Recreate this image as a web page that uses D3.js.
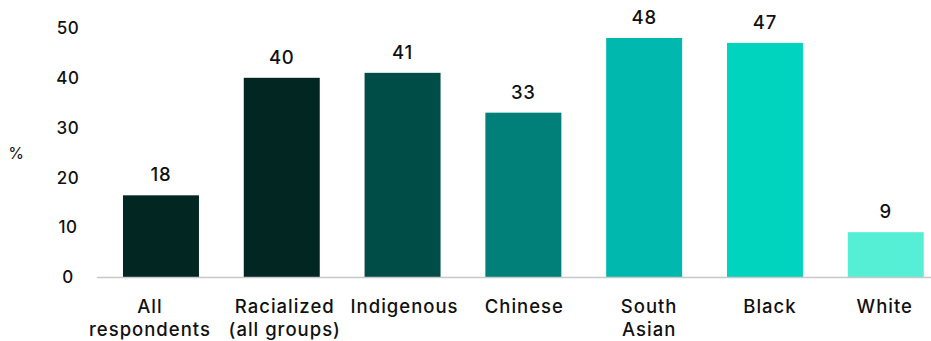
<!DOCTYPE html>
<html>
<head>
<meta charset="utf-8">
<script src="https://cdn.jsdelivr.net/npm/d3@7"></script>
<style>
html,body{margin:0;padding:0;background:#fff;}
svg{display:block;font-family:Inter,"Noto Sans",sans-serif;}
</style>
</head>
<body>
<svg id="chart" width="931" height="341"></svg>
<script>
const categories = [["All","respondents"],["Racialized","(all groups)"],["Indigenous"],["Chinese"],["South","Asian"],["Black"],["White"]];
const values = [16.4, 40, 41, 33, 48, 47, 9];
const valueLabels = ["18","40","41","33","48","47","9"];
const colors = ["#022621","#022621","#004d48","#008079","#00b8ae","#00d4be","#55efd6"];
const yTicks = [0,10,20,30,40,50];

const svg = d3.select("#chart");
const step = 120.8;
const x = d3.scaleBand()
  .domain(d3.range(categories.length))
  .range([97, 97 + step*(7 - 0.371 + 0.43)])
  .paddingInner(0.371)
  .paddingOuter(0.215);
const y = d3.scaleLinear().domain([0,50]).range([277, 28]);

// y tick labels
svg.append("g").selectAll("text").data(yTicks).join("text")
  .attr("x", 68).attr("y", d => y(d)).attr("dy","0.36em")
  .attr("text-anchor","middle").attr("font-size",17).attr("font-weight",500)
  .attr("letter-spacing","0.6px").attr("fill","#111")
  .text(d => d);

svg.append("text").attr("x",16).attr("y",153).attr("dy","0.36em")
  .attr("text-anchor","middle").attr("font-size",16).attr("fill","#111").text("%");

// bars
svg.append("g").selectAll("rect").data(values).join("rect")
  .attr("x",(d,i)=>x(i)).attr("width",x.bandwidth())
  .attr("y",d=>y(d)).attr("height",d=>y(0)-y(d))
  .attr("fill",(d,i)=>colors[i]);

// axis line
svg.append("line").attr("x1",97).attr("x2",931).attr("y1",y(0)+0.5).attr("y2",y(0)+0.5)
  .attr("stroke","#c8c8c8").attr("stroke-width",1.5);

// value labels
svg.append("g").selectAll("text").data(values).join("text")
  .attr("x",(d,i)=>x(i)+x.bandwidth()/2).attr("y",d=>y(d)-14)
  .attr("text-anchor","middle").attr("font-size",18.5).attr("font-weight",500)
  .attr("letter-spacing","0.8px").attr("fill","#111")
  .text((d,i)=>valueLabels[i]);

// category labels (small per-label nudges as in the original layout)
const nudge = [-11, 3, 2, 1, 5, 5, -1];
const cl = svg.append("g").selectAll("text").data(categories).join("text")
  .attr("x",(d,i)=>x(i)+x.bandwidth()/2+nudge[i]).attr("y",313)
  .attr("text-anchor","middle").attr("font-size",18.5).attr("font-weight",500)
  .attr("letter-spacing","1px").attr("fill","#111");
cl.selectAll("tspan").data(d=>d).join("tspan")
  .attr("x",function(){return this.parentNode.getAttribute("x");})
  .attr("dy",(d,i)=>i===0?0:23).text(d=>d);
</script>
</body>
</html>
